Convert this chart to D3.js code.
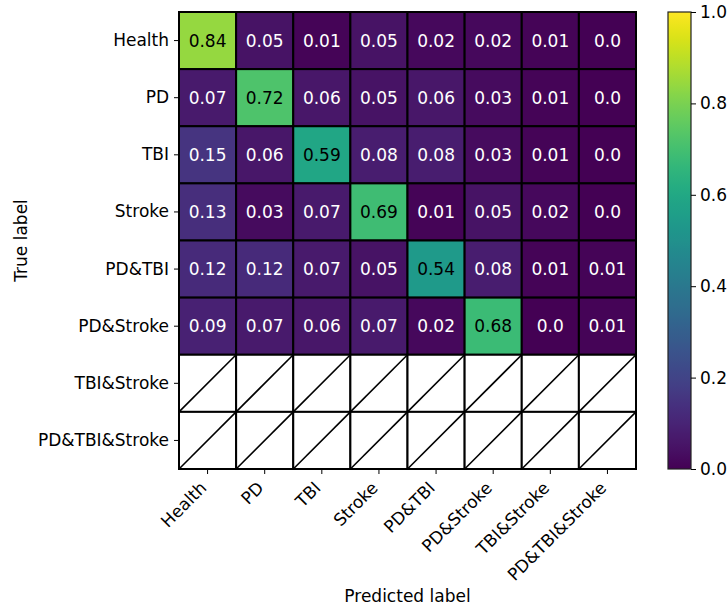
<!DOCTYPE html>
<html>
<head>
<meta charset="utf-8">
<script src="https://cdn.jsdelivr.net/npm/d3@7"></script>
<style>
  html, body { margin: 0; padding: 0; background: #fff; }
  svg text { font-family: "DejaVu Sans", sans-serif; }
</style>
</head>
<body>
<svg id="chart" width="728" height="610"></svg>
<script>
// Class names shared by both axes
const classes = ["Health", "PD", "TBI", "Stroke", "PD&TBI", "PD&Stroke", "TBI&Stroke", "PD&TBI&Stroke"];

// Normalised confusion matrix, one array per true label (null = no samples)
const rowHealth      = [0.84, 0.05, 0.01, 0.05, 0.02, 0.02, 0.01, 0.0];
const rowPD          = [0.07, 0.72, 0.06, 0.05, 0.06, 0.03, 0.01, 0.0];
const rowTBI         = [0.15, 0.06, 0.59, 0.08, 0.08, 0.03, 0.01, 0.0];
const rowStroke      = [0.13, 0.03, 0.07, 0.69, 0.01, 0.05, 0.02, 0.0];
const rowPDTBI       = [0.12, 0.12, 0.07, 0.05, 0.54, 0.08, 0.01, 0.01];
const rowPDStroke    = [0.09, 0.07, 0.06, 0.07, 0.02, 0.68, 0.0, 0.01];
const rowTBIStroke   = [null, null, null, null, null, null, null, null];
const rowPDTBIStroke = [null, null, null, null, null, null, null, null];

const matrix = [rowHealth, rowPD, rowTBI, rowStroke, rowPDTBI, rowPDStroke, rowTBIStroke, rowPDTBIStroke];

// Colour bar tick values
const colorbarTicks = [0.0, 0.2, 0.4, 0.6, 0.8, 1.0];

const svg = d3.select("#chart");
const FONT = 17;

const plotL = 179, plotR = 636, plotT = 12, plotB = 469;

const x = d3.scaleBand().domain(classes).range([plotL, plotR]).padding(0);
const y = d3.scaleBand().domain(classes).range([plotT, plotB]).padding(0);
const color = d3.scaleSequential(d3.interpolateViridis).domain([0, 1]);

const cells = [];
matrix.forEach((row, i) => row.forEach((v, j) => cells.push({ t: classes[i], p: classes[j], v })));

const fmt = v => (v === 0 ? "0.0" : String(v));

// Cells
const g = svg.append("g");
g.selectAll("rect.cell")
  .data(cells)
  .join("rect")
  .attr("class", "cell")
  .attr("x", d => x(d.p))
  .attr("y", d => y(d.t))
  .attr("width", x.bandwidth())
  .attr("height", y.bandwidth())
  .attr("fill", d => (d.v === null ? "#ffffff" : color(d.v)))
  .attr("stroke", "#000")
  .attr("stroke-width", 2);

// Diagonal strokes through empty cells
g.selectAll("line.empty")
  .data(cells.filter(d => d.v === null))
  .join("line")
  .attr("class", "empty")
  .attr("x1", d => x(d.p))
  .attr("y1", d => y(d.t) + y.bandwidth())
  .attr("x2", d => x(d.p) + x.bandwidth())
  .attr("y2", d => y(d.t))
  .attr("stroke", "#000")
  .attr("stroke-width", 1.6);

// Value annotations
g.selectAll("text.val")
  .data(cells.filter(d => d.v !== null))
  .join("text")
  .attr("class", "val")
  .attr("x", d => x(d.p) + x.bandwidth() / 2)
  .attr("y", d => y(d.t) + y.bandwidth() / 2)
  .attr("text-anchor", "middle")
  .attr("dy", "0.36em")
  .attr("font-size", FONT)
  .attr("fill", d => (d.v > 0.42 ? "#000" : "#fff"))
  .text(d => fmt(d.v));

// Frame
svg.append("rect")
  .attr("x", plotL).attr("y", plotT)
  .attr("width", plotR - plotL).attr("height", plotB - plotT)
  .attr("fill", "none").attr("stroke", "#000").attr("stroke-width", 1.2);

// Y axis
const yAxis = svg.append("g")
  .attr("transform", `translate(${plotL},0)`)
  .call(d3.axisLeft(y).tickSize(5).tickPadding(5));
yAxis.select(".domain").remove();
yAxis.selectAll(".tick line").attr("stroke", "#000").attr("stroke-width", 1);
yAxis.selectAll(".tick text")
  .attr("font-size", FONT)
  .attr("fill", "#000")
  .attr("font-family", "DejaVu Sans");

// X axis with rotated labels
const xAxis = svg.append("g")
  .attr("transform", `translate(0,${plotB})`)
  .call(d3.axisBottom(x).tickSize(5));
xAxis.select(".domain").remove();
xAxis.selectAll(".tick line").attr("stroke", "#000").attr("stroke-width", 1);
xAxis.selectAll(".tick text")
  .attr("font-size", FONT)
  .attr("fill", "#000")
  .attr("font-family", "DejaVu Sans")
  .attr("text-anchor", "end")
  .attr("x", 0)
  .attr("y", 0)
  .attr("dy", 0)
  .attr("transform", "translate(0,20) rotate(-45)");

// Axis titles
svg.append("text")
  .attr("x", (plotL + plotR) / 2)
  .attr("y", 602)
  .attr("text-anchor", "middle")
  .attr("font-size", FONT)
  .text("Predicted label");

svg.append("text")
  .attr("transform", `translate(27,${(plotT + plotB) / 2}) rotate(-90)`)
  .attr("text-anchor", "middle")
  .attr("font-size", FONT)
  .text("True label");

// Colour bar
const cbX = 668, cbW = 23;
const cbScale = d3.scaleLinear().domain([0, 1]).range([plotB, plotT]);
const defs = svg.append("defs");
const grad = defs.append("linearGradient")
  .attr("id", "viridisGrad")
  .attr("x1", 0).attr("y1", 1).attr("x2", 0).attr("y2", 0);
d3.range(0, 1.0001, 0.02).forEach(t => {
  grad.append("stop").attr("offset", t).attr("stop-color", color(t));
});
svg.append("rect")
  .attr("x", cbX).attr("y", plotT)
  .attr("width", cbW).attr("height", plotB - plotT)
  .attr("fill", "url(#viridisGrad)")
  .attr("stroke", "#222").attr("stroke-width", 1.2);

const cbAxis = svg.append("g")
  .attr("transform", `translate(${cbX + cbW},0)`)
  .call(d3.axisRight(cbScale).tickValues(colorbarTicks).tickFormat(d3.format(".1f")).tickSize(5).tickPadding(4));
cbAxis.select(".domain").remove();
cbAxis.selectAll(".tick line").attr("stroke", "#000").attr("stroke-width", 1);
cbAxis.selectAll(".tick text")
  .attr("font-size", FONT)
  .attr("fill", "#000")
  .attr("font-family", "DejaVu Sans");
</script>
</body>
</html>
